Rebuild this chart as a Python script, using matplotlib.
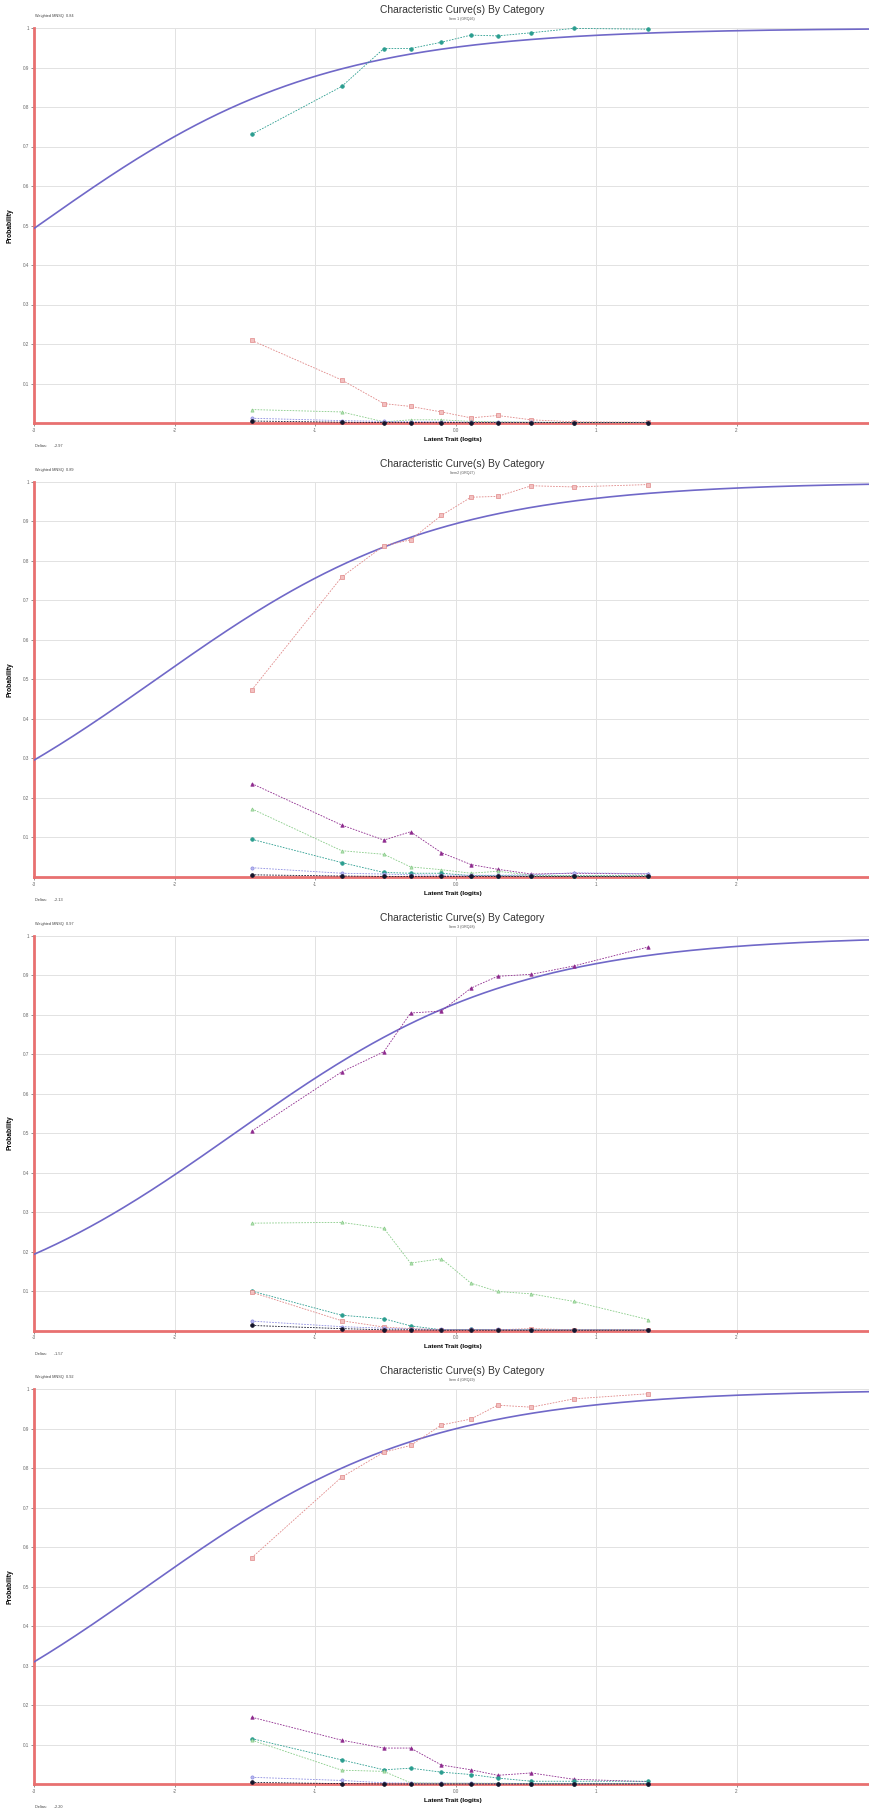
import numpy as np
import matplotlib
matplotlib.use("Agg")
import matplotlib.pyplot as plt

plt.rcParams['font.family'] = ['Liberation Sans', 'DejaVu Sans']

# ability group means (logits), same for every item
theta = [-1.45, -0.81, -0.51, -0.32, -0.10, 0.11, 0.30, 0.54, 0.84, 1.37]

items = ["Item 1 (GRQ26)", "Item2 (GRQ27)", "Item 3 (GRQ28)", "Item 4 (GRQ29)"]
mnsq = [0.84, 0.89, 0.97, 0.92]
deltas = [-2.97, -2.13, -1.57, -2.20]

item1 = {
    "teal":     [0.731, 0.852, 0.948, 0.948, 0.964, 0.982, 0.980, 0.988, 0.999, 0.997],
    "pink":     [0.209, 0.109, 0.049, 0.042, 0.028, 0.013, 0.019, 0.008, 0.003, 0.002],
    "green":    [0.034, 0.028, 0.003, 0.008, 0.008, 0.004, 0.003, 0.002, 0.001, 0.001],
    "lavender": [0.012, 0.006, 0.004, 0.003, 0.003, 0.002, 0.002, 0.002, 0.001, 0.001],
    "black":    [0.005, 0.002, 0.001, 0.001, 0.001, 0.001, 0.001, 0.001, 0.001, 0.001],
}
item2 = {
    "pink":     [0.473, 0.759, 0.838, 0.853, 0.915, 0.961, 0.963, 0.990, 0.987, 0.993],
    "magenta":  [0.236, 0.131, 0.093, 0.114, 0.061, 0.031, 0.019, 0.007, 0.009, 0.007],
    "green":    [0.172, 0.066, 0.057, 0.025, 0.018, 0.009, 0.014, 0.004, 0.003, 0.003],
    "teal":     [0.095, 0.036, 0.011, 0.009, 0.009, 0.003, 0.003, 0.002, 0.002, 0.002],
    "lavender": [0.023, 0.009, 0.007, 0.005, 0.004, 0.004, 0.004, 0.005, 0.010, 0.008],
    "black":    [0.005, 0.002, 0.001, 0.001, 0.001, 0.001, 0.001, 0.001, 0.001, 0.001],
}
item3 = {
    "magenta":  [0.505, 0.655, 0.706, 0.804, 0.809, 0.867, 0.897, 0.902, 0.923, 0.971],
    "green":    [0.272, 0.274, 0.259, 0.171, 0.182, 0.120, 0.099, 0.093, 0.074, 0.028],
    "teal":     [0.100, 0.039, 0.030, 0.012, 0.002, 0.003, 0.002, 0.002, 0.002, 0.002],
    "pink":     [0.097, 0.025, 0.009, 0.005, 0.002, 0.002, 0.002, 0.005, 0.002, 0.002],
    "lavender": [0.024, 0.010, 0.006, 0.004, 0.003, 0.003, 0.003, 0.002, 0.002, 0.002],
    "black":    [0.013, 0.005, 0.002, 0.002, 0.001, 0.001, 0.001, 0.001, 0.001, 0.001],
}
item4 = {
    "pink":     [0.574, 0.778, 0.841, 0.858, 0.910, 0.925, 0.960, 0.955, 0.976, 0.989],
    "magenta":  [0.170, 0.112, 0.092, 0.092, 0.049, 0.037, 0.023, 0.029, 0.013, 0.007],
    "teal":     [0.116, 0.062, 0.037, 0.041, 0.031, 0.025, 0.016, 0.008, 0.008, 0.008],
    "green":    [0.112, 0.036, 0.033, 0.004, 0.003, 0.003, 0.003, 0.002, 0.002, 0.002],
    "lavender": [0.018, 0.010, 0.004, 0.003, 0.003, 0.003, 0.002, 0.002, 0.002, 0.002],
    "black":    [0.005, 0.002, 0.001, 0.001, 0.001, 0.001, 0.001, 0.001, 0.001, 0.001],
}
observed = [item1, item2, item3, item4]

styles = {
    "teal":     dict(color="#2a9d8f", marker="o", ms=2.6, mfc="#2a9d8f"),
    "pink":     dict(color="#e08888", marker="s", ms=2.5, mfc="#f2c0c0"),
    "green":    dict(color="#88cc88", marker="^", ms=2.3, mfc="#b8e2b8"),
    "magenta":  dict(color="#8e2a8e", marker="^", ms=2.5, mfc="#8e2a8e"),
    "lavender": dict(color="#8c8ce0", marker="o", ms=2.3, mfc="#b8b8f0"),
    "black":    dict(color="#14142a", marker="o", ms=2.7, mfc="#14142a"),
}

W, H = 870, 1812
fig = plt.figure(figsize=(W / 100, H / 100), dpi=100)

panel_h = 453.8
ax_left, ax_right = 34, 870
tgrid = np.linspace(-3, 2.95, 300)

for i in range(4):
    off = i * panel_h
    top, bot = 28 + off, 423 + off
    ax = fig.add_axes([ax_left / W, 1 - bot / H, (ax_right - ax_left) / W, (bot - top) / H])
    ax.set_xlim(-3, 2.95)
    ax.set_ylim(0, 1)

    ax.set_yticks(np.arange(0.1, 1.01, 0.1))
    ax.set_yticklabels(["0.1", "0.2", "0.3", "0.4", "0.5", "0.6", "0.7", "0.8", "0.9", "1"])
    ax.set_xticks([-3, -2, -1, 0, 1, 2])
    ax.set_xticklabels(["-3", "-2", "-1", "0.0", "1", "2"])
    ax.tick_params(labelsize=3.3, length=2, width=0.5, colors="#666666", pad=1.5)
    ax.grid(True, color="#e2e2e2", lw=0.7)
    ax.set_axisbelow(True)
    for s in ["top", "right"]:
        ax.spines[s].set_visible(False)
    for s in ["left", "bottom"]:
        ax.spines[s].set_color("#e87070")
        ax.spines[s].set_linewidth(2.0)

    # Rasch model curve from the item delta
    p = 1 / (1 + np.exp(-(tgrid - deltas[i])))
    ax.plot(tgrid, p, color="#7068c8", lw=1.2, zorder=3)

    for key, vals in observed[i].items():
        st = styles[key]
        ax.plot(theta, vals, ls=(0, (2, 1.5)), lw=0.6, color=st["color"],
                marker=st["marker"], ms=st["ms"], mfc=st["mfc"], mec=st["color"],
                mew=0.5, zorder=4, clip_on=False)

    ax.set_ylabel("Probability", fontsize=4.8, fontweight="bold")
    ax.yaxis.set_label_coords(-0.025, 0.5)
    ax.set_xlabel("Latent Trait (logits)", fontsize=4.6, fontweight="bold")
    ax.xaxis.set_label_coords((453 - ax_left) / (ax_right - ax_left), -0.035)

    fig.text(462 / W, 1 - (10 + off) / H, "Characteristic Curve(s) By Category",
             ha="center", va="center", fontsize=7.4, color="#333333")
    fig.text(462 / W, 1 - (19 + off) / H, items[i],
             ha="center", va="center", fontsize=2.6, color="#555555")
    fig.text(35 / W, 1 - (16 + off) / H, "Weighted MNSQ  %.2f" % mnsq[i],
             ha="left", va="center", fontsize=2.8, color="#444444")
    fig.text(35 / W, 1 - (446 + off) / H, "Deltas:      %.2f" % deltas[i],
             ha="left", va="center", fontsize=2.8, color="#444444")

fig.savefig("out.png", dpi=100)
